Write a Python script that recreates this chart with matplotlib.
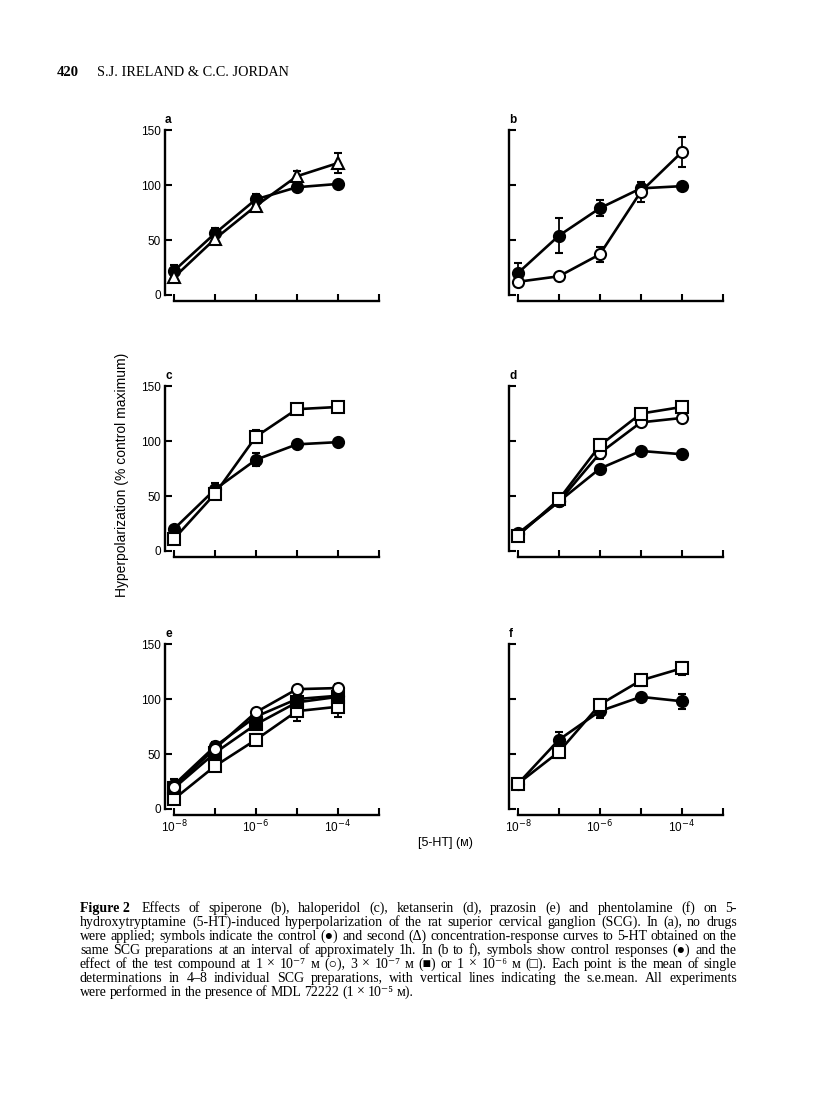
import matplotlib
matplotlib.use('Agg')
import matplotlib.pyplot as plt
import numpy as np

# 5-HT concentrations (M)
conc = [1e-8, 1e-7, 1e-6, 1e-5, 1e-4]

# (a) no drug: control and second curve
ctrl_a = [22, 56, 87, 98, 101]
ctrl_a_err = [5, 5, 5, 0, 0]
second_a = [16, 51, 81, 108, 120]
second_a_err = [4, 4, 3, 5, 9]

# (b) spiperone
ctrl_b = [20, 54, 79, 97, 99]
ctrl_b_err = [9, 16, 7, 3, 0]
oc_b = [12, 17, 37, 94, 130]
oc_b_err = [0, 3, 7, 9, 14]

# (c) haloperidol
ctrl_c = [20, 56, 83, 97, 99]
ctrl_c_err = [3, 6, 6, 0, 0]
sq_c = [11, 52, 104, 129, 131]
sq_c_err = [0, 3, 6, 4, 3]

# (d) ketanserin
ctrl_d = [16, 45, 75, 91, 88]
ctrl_d_err = [0, 0, 0, 0, 0]
oc_d = [15, 45, 89, 117, 121]
oc_d_err = [0, 0, 5, 3, 3]
sq_d = [14, 47, 96, 125, 131]
sq_d_err = [0, 0, 6, 4, 4]

# (e) prazosin
oc_e = [20, 55, 88, 109, 110]
oc_e_err = [0, 3, 3, 3, 4]
ctrl_e = [22, 57, 84, 100, 103]
ctrl_e_err = [5, 4, 4, 4, 4]
fs_e = [19, 51, 77, 97, 102]
fs_e_err = [3, 4, 4, 4, 4]
sq_e = [9, 39, 63, 89, 93]
sq_e_err = [0, 4, 5, 9, 9]

# (f) phentolamine
ctrl_f = [23, 63, 89, 102, 98]
ctrl_f_err = [0, 7, 6, 3, 7]
sq_f = [23, 52, 95, 117, 128]
sq_f_err = [0, 6, 5, 5, 6]

yticks = [0, 50, 100, 150]
xtick_pos = [1e-8, 1e-7, 1e-6, 1e-5, 1e-4, 1e-3]
xtick_lab = ['10$^{-8}$', '', '10$^{-6}$', '', '10$^{-4}$', '']

# marker styles: filled circle, open triangle, open circle, filled square, open square
styles = {
    'fc': dict(marker='o', mfc='black'),
    'tri': dict(marker='^', mfc='white'),
    'oc': dict(marker='o', mfc='white'),
    'fs': dict(marker='s', mfc='black'),
    'os': dict(marker='s', mfc='white'),
}

panels = [
    ('a', [('fc', ctrl_a, ctrl_a_err), ('tri', second_a, second_a_err)]),
    ('b', [('fc', ctrl_b, ctrl_b_err), ('oc', oc_b, oc_b_err)]),
    ('c', [('fc', ctrl_c, ctrl_c_err), ('os', sq_c, sq_c_err)]),
    ('d', [('fc', ctrl_d, ctrl_d_err), ('oc', oc_d, oc_d_err), ('os', sq_d, sq_d_err)]),
    ('e', [('os', sq_e, sq_e_err), ('fs', fs_e, fs_e_err), ('fc', ctrl_e, ctrl_e_err), ('oc', oc_e, oc_e_err)]),
    ('f', [('fc', ctrl_f, ctrl_f_err), ('os', sq_f, sq_f_err)]),
]

W, H = 816, 1104
fig = plt.figure(figsize=(8.16, 11.04), dpi=100)
sans = ['Liberation Sans', 'DejaVu Sans']
serif = ['Liberation Serif', 'DejaVu Serif', 'DejaVu Sans']

col_left = [165, 509]
row_bottom = [301, 557, 815]
ax_w, ax_h = 215, 172

for i, (letter, series) in enumerate(panels):
    r, c = divmod(i, 2)
    left = col_left[c] / W
    bottom = 1 - row_bottom[r] / H
    ax = fig.add_axes([left, bottom, ax_w / W, ax_h / H])
    for key, y, err in series:
        st = styles[key]
        ax.errorbar(conc, y, yerr=err, color='black', lw=1.9, ms=8, mec='black', mew=1.5,
                    elinewidth=1.3, capsize=3, capthick=1.3, zorder=3, **st)
    ax.set_xscale('log')
    ax.set_xlim(10 ** -8.22, 10 ** -2.97)
    ax.set_ylim(-5.5, 151)
    ax.spines['top'].set_visible(False)
    ax.spines['right'].set_visible(False)
    ax.spines['left'].set_bounds(0, 150)
    ax.spines['bottom'].set_bounds(1e-8, 1e-3)
    for s in ['left', 'bottom']:
        ax.spines[s].set_linewidth(1.7)
    ax.set_yticks(yticks)
    ax.set_xticks(xtick_pos)
    ax.minorticks_off()
    ax.tick_params(direction='in', length=5, width=1.5, labelsize=8.5, pad=3)
    if c == 0:
        ax.set_yticklabels([str(v) for v in yticks], family=sans)
    else:
        ax.set_yticklabels([])
    if r == 2:
        ax.set_xticklabels(xtick_lab, family=sans)
    else:
        ax.set_xticklabels([])
    ax.text(0.0, 1.02, letter, transform=ax.transAxes, fontsize=8.5, fontweight='bold',
            family=sans, ha='left', va='bottom')

fig.text(122 / W, 1 - 475 / H, 'Hyperpolarization (% control maximum)', rotation=90,
         ha='center', va='center', fontsize=10, family=sans)
fig.text(445 / W, 1 - 843 / H, '[5-HT] (ᴍ)', ha='center', va='center', fontsize=9, family=sans)

# page header
fig.text(57 / W, 1 - 76 / H, '420', fontsize=10.5, fontweight='bold', family=serif, va='baseline')
fig.text(97 / W, 1 - 76 / H, 'S.J. IRELAND & C.C. JORDAN', fontsize=10.3, family=serif, va='baseline')

# caption, justified by placing words
caption = [
    'Figure 2  Effects of spiperone (b), haloperidol (c), ketanserin (d), prazosin (e) and phentolamine (f) on 5-',
    'hydroxytryptamine (5-HT)-induced hyperpolarization of the rat superior cervical ganglion (SCG). In (a), no drugs',
    'were applied; symbols indicate the control (●) and second (Δ) concentration-response curves to 5-HT obtained on the',
    'same SCG preparations at an interval of approximately 1h. In (b to f), symbols show control responses (●) and the',
    'effect of the test compound at 1 × 10⁻⁷ ᴍ (○), 3 × 10⁻⁷ ᴍ (■) or 1 × 10⁻⁶ ᴍ (□). Each point is the mean of single',
    'determinations in 4–8 individual SCG preparations, with vertical lines indicating the s.e.mean. All experiments',
    'were performed in the presence of MDL 72222 (1 × 10⁻⁵ ᴍ).',
]
cap_x0, cap_x1 = 80, 737
cap_y0, cap_dy = 912, 14
cap_size = 10
renderer = fig.canvas.get_renderer()
for li, line in enumerate(caption):
    y = 1 - (cap_y0 + li * cap_dy) / H
    words = line.split(' ')
    if li == 0:
        words = ['Figure 2 '] + words[3:]
    texts = []
    for wi, w in enumerate(words):
        bold = (li == 0 and wi == 0)
        t = fig.text(0, y, w, fontsize=cap_size, family=serif, fontweight='bold' if bold else 'normal',
                     va='baseline', ha='left')
        texts.append(t)
    widths = [t.get_window_extent(renderer).width for t in texts]
    if li < len(caption) - 1:
        gap = (cap_x1 - cap_x0 - sum(widths)) / (len(words) - 1)
    else:
        gap = 3
    x = cap_x0
    for t, wd in zip(texts, widths):
        t.set_x(x / W)
        x += wd + gap

fig.savefig('out.png', dpi=100)
